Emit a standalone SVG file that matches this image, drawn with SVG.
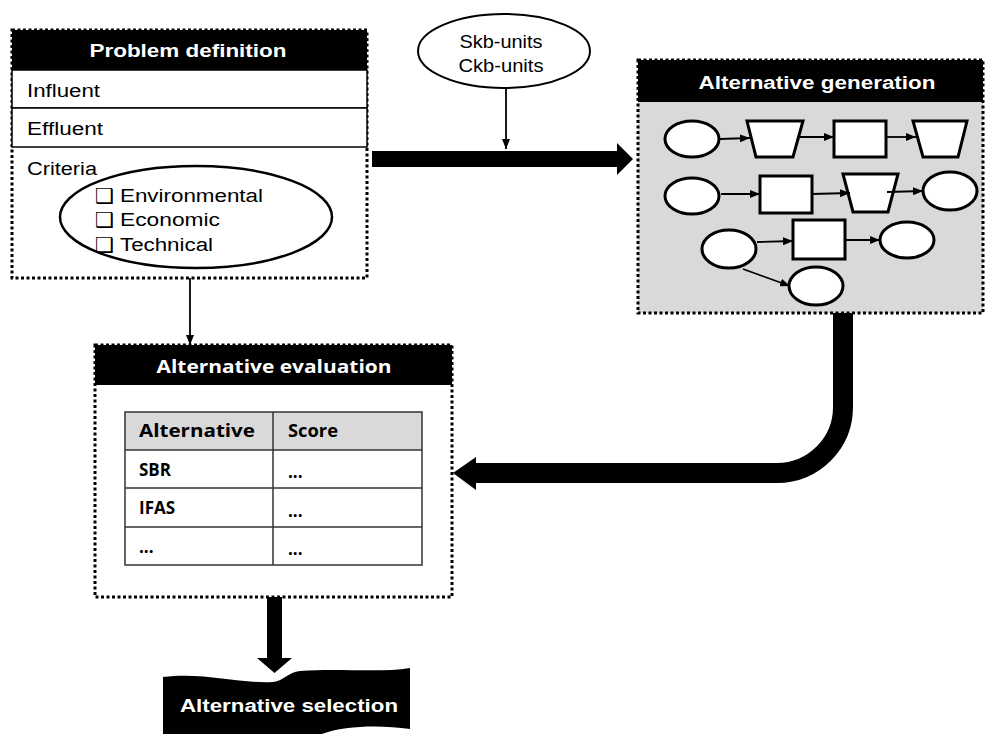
<svg xmlns="http://www.w3.org/2000/svg" width="985" height="734" viewBox="0 0 985 734">
<defs>
<style>
.dot{fill:none;stroke:#000;stroke-width:3;stroke-dasharray:3 2.5}
.hdr{fill:#000}
.ht{font-family:"Liberation Sans",Arial,sans-serif;font-weight:bold;fill:#fff;font-size:18px}
.ho{font-family:"Open Sans","Liberation Sans",sans-serif;font-weight:bold;fill:#fff;font-size:18px}
.t{font-family:"Liberation Sans",Arial,"DejaVu Sans",sans-serif;font-size:18px;fill:#000}
.cb{font-family:"DejaVu Sans",sans-serif;font-size:21px;fill:#000}
.tb{font-family:"Open Sans","Liberation Sans",sans-serif;font-weight:bold;font-size:17px;fill:#000}
.row{fill:#fff;stroke:#000;stroke-width:1.5}
.sh{fill:#fff;stroke:#000;stroke-width:3}
.thin{fill:none;stroke:#000;stroke-width:1.8}
.cell{fill:none;stroke:#333;stroke-width:1.5}
</style>
<marker id="ah" markerWidth="10" markerHeight="8" refX="10" refY="4" orient="auto" markerUnits="userSpaceOnUse">
<path d="M0,0 L10,4 L0,8 Z" fill="#000"/>
</marker>
</defs>
<rect width="985" height="734" fill="#fff"/>

<g id="problem-definition">
<rect x="12" y="30" width="355" height="248" fill="#fff"/>
<rect x="12" y="30" width="355" height="248" class="dot"/>
<rect x="12" y="30" width="355" height="40" class="hdr"/>
<text x="188" y="57" class="ht" text-anchor="middle" textLength="197" lengthAdjust="spacingAndGlyphs">Problem definition</text>
<rect x="12" y="70" width="355" height="38" class="row"/>
<rect x="12" y="108" width="355" height="39" class="row"/>
<text x="27" y="97" class="t" textLength="73" lengthAdjust="spacingAndGlyphs">Influent</text>
<text x="27" y="135" class="t" textLength="76" lengthAdjust="spacingAndGlyphs">Effluent</text>
<text x="27" y="175" class="t" textLength="70" lengthAdjust="spacingAndGlyphs">Criteria</text>
<ellipse cx="196" cy="217" rx="136" ry="51" fill="none" stroke="#000" stroke-width="2.5"/>
<text x="95" y="203" class="cb">❑</text>
<text x="120" y="202" class="t" textLength="143" lengthAdjust="spacingAndGlyphs">Environmental</text>
<text x="95" y="227" class="cb">❑</text>
<text x="120" y="226" class="t" textLength="100" lengthAdjust="spacingAndGlyphs">Economic</text>
<text x="95" y="252" class="cb">❑</text>
<text x="120" y="251" class="t" textLength="93" lengthAdjust="spacingAndGlyphs">Technical</text>
</g>

<g id="units">
<ellipse cx="504" cy="51" rx="86" ry="37" fill="#fff" stroke="#000" stroke-width="2"/>
<text x="501" y="48" class="t" font-size="17" text-anchor="middle" textLength="83" lengthAdjust="spacingAndGlyphs">Skb-units</text>
<text x="501" y="72" class="t" font-size="17" text-anchor="middle" textLength="85" lengthAdjust="spacingAndGlyphs">Ckb-units</text>
</g>

<g id="alternative-generation">
<rect x="638" y="60" width="345" height="253" fill="#d9d9d9"/>
<rect x="638" y="60" width="345" height="253" class="dot"/>
<rect x="638" y="60" width="345" height="42" class="hdr"/>
<text x="817" y="89" class="ht" text-anchor="middle" textLength="237" lengthAdjust="spacingAndGlyphs">Alternative generation</text>
<ellipse cx="692" cy="139" rx="27" ry="18" class="sh"/>
<polygon points="747,121 803,121 793,157 756,157" class="sh"/>
<rect x="834" y="121" width="52" height="36" class="sh"/>
<polygon points="913,121 967,121 958,157 923,157" class="sh"/>
<ellipse cx="692" cy="196" rx="27" ry="18" class="sh"/>
<rect x="760" y="176" width="52" height="37" class="sh"/>
<polygon points="843,174 898,174 888,212 853,212" class="sh"/>
<ellipse cx="950" cy="191" rx="27" ry="19" class="sh"/>
<ellipse cx="729" cy="249" rx="27" ry="19" class="sh"/>
<rect x="793" y="220" width="52" height="39" class="sh"/>
<ellipse cx="907" cy="240" rx="27" ry="18" class="sh"/>
<ellipse cx="816" cy="286" rx="27" ry="19" class="sh"/>
<g>
<line x1="720" y1="139" x2="750" y2="138" class="thin" marker-end="url(#ah)"/>
<line x1="800" y1="137" x2="834" y2="137" class="thin" marker-end="url(#ah)"/>
<line x1="886" y1="137" x2="916" y2="137" class="thin" marker-end="url(#ah)"/>
<line x1="721" y1="194" x2="760" y2="194" class="thin" marker-end="url(#ah)"/>
<line x1="812" y1="194" x2="850" y2="193" class="thin" marker-end="url(#ah)"/>
<line x1="887" y1="192" x2="923" y2="191" class="thin" marker-end="url(#ah)"/>
<line x1="757" y1="242" x2="793" y2="241" class="thin" marker-end="url(#ah)"/>
<line x1="845" y1="240" x2="880" y2="240" class="thin" marker-end="url(#ah)"/>
<line x1="743" y1="269" x2="790" y2="286" class="thin" marker-end="url(#ah)"/>
</g>
</g>

<g id="alternative-evaluation">
<rect x="95" y="345" width="357" height="252" fill="#fff"/>
<rect x="95" y="345" width="357" height="252" class="dot"/>
<rect x="95" y="345" width="357" height="40" class="hdr"/>
<text x="274" y="373" class="ho" text-anchor="middle" textLength="235" lengthAdjust="spacingAndGlyphs">Alternative evaluation</text>
<rect x="125" y="412" width="297" height="38" fill="#d9d9d9"/>
<rect x="125" y="412" width="297" height="153" class="cell"/>
<line x1="125" y1="450" x2="422" y2="450" class="cell"/>
<line x1="125" y1="488" x2="422" y2="488" class="cell"/>
<line x1="125" y1="527" x2="422" y2="527" class="cell"/>
<line x1="273" y1="412" x2="273" y2="565" class="cell"/>
<text x="139" y="437" class="tb" font-size="18" textLength="116" lengthAdjust="spacingAndGlyphs">Alternative</text>
<text x="288" y="437" class="tb" font-size="16" textLength="50" lengthAdjust="spacingAndGlyphs">Score</text>
<text x="139" y="476" class="tb">SBR</text>
<text x="139" y="514" class="tb">IFAS</text>
<text x="139" y="553" class="tb">...</text>
<text x="288" y="478" class="tb">...</text>
<text x="288" y="517" class="tb">...</text>
<text x="288" y="555" class="tb">...</text>
</g>

<g id="alternative-selection">
<path d="M163,677 C205,672 240,684 273,682 C284,681 288,672 300,671 C340,668 380,673 410,668 L410,729 C375,724 330,726 310,740 L163,740 Z" fill="#000"/>
<text x="289" y="712" class="ht" font-size="19" text-anchor="middle" textLength="218" lengthAdjust="spacingAndGlyphs">Alternative selection</text>
</g>

<g id="connectors">
<line x1="190" y1="278" x2="190" y2="345" class="thin" marker-end="url(#ah)"/>
<line x1="506" y1="88" x2="506" y2="149" class="thin" marker-end="url(#ah)"/>
<polygon points="372,151 617,151 617,143 633,159 617,175 617,167 372,167" fill="#000"/>
<path d="M843,313 V407 A66,66 0 0 1 777,473 H472" fill="none" stroke="#000" stroke-width="20"/>
<polygon points="476,457 453,473 476,490" fill="#000"/>
<polygon points="267,597 282,597 282,658 292,658 274.5,673 257,658 267,658" fill="#000"/>
</g>
</svg>
